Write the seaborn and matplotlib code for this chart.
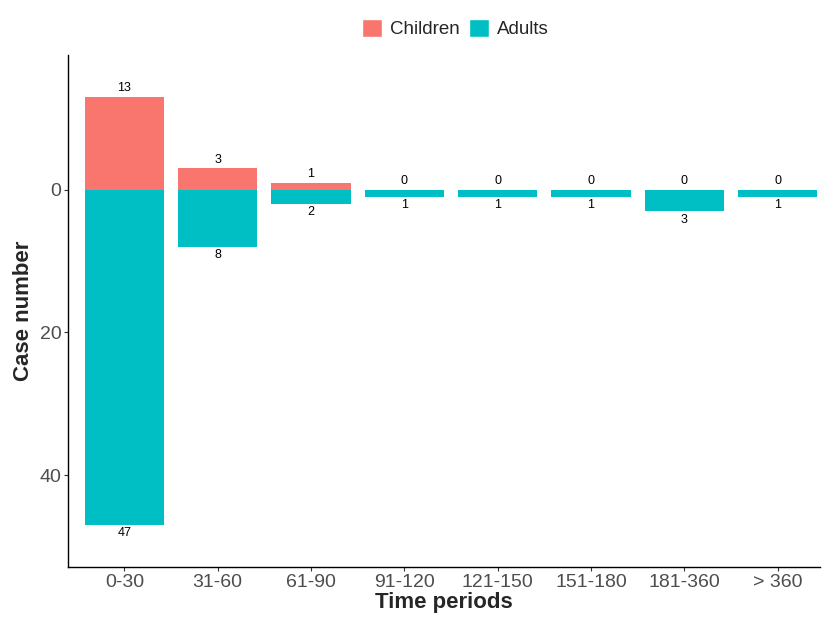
import numpy as np
import pandas as pd
import matplotlib
matplotlib.use("Agg")
import matplotlib.pyplot as plt
from matplotlib.patches import Patch
import seaborn as sns

sns.set_theme(style="ticks")
plt.rcParams['font.family'] = ['Liberation Sans', 'DejaVu Sans']

periods = ["0-30", "31-60", "61-90", "91-120", "121-150", "151-180", "181-360", "> 360"]
children = [13, 3, 1, 0, 0, 0, 0, 0]
adults = [47, 8, 2, 1, 1, 1, 3, 1]

pink = "#F8766D"
teal = "#00BFC4"

# children go up (negative), adults go down (positive), axis reversed
df = pd.DataFrame({
    "period": periods * 2,
    "value": [-c for c in children] + adults,
    "group": ["Children"] * len(periods) + ["Adults"] * len(periods),
})

fig = plt.figure(figsize=(8.23, 6.17), dpi=100)
ax = fig.add_axes([0.083, 0.081, 0.913, 0.830])

sns.barplot(data=df, x="period", y="value", hue="group", order=periods,
            hue_order=["Children", "Adults"], palette=[pink, teal],
            dodge=False, width=0.85, errorbar=None, saturation=1,
            linewidth=0, ax=ax, legend=False)

for i, (c, a) in enumerate(zip(children, adults)):
    ax.text(i, -c - 0.35, str(c), ha="center", va="bottom", fontsize=9, color="black")
    ax.text(i, a + 0.35, str(a), ha="center", va="top", fontsize=9, color="black")

ax.set_ylim(52.9, -18.9)
ax.set_xlim(-0.6, 7.45)
ax.set_yticks([0, 20, 40])
ax.set_yticklabels(["0", "20", "40"])
ax.tick_params(axis="both", labelsize=14, labelcolor="#4D4D4D", length=3, width=0.8,
               color="#333333", pad=2)
ax.set_xlabel("Time periods", fontsize=16, fontweight="bold", labelpad=1)
ax.set_ylabel("Case number", fontsize=16, fontweight="bold", labelpad=4)
sns.despine(ax=ax)
for s in ["left", "bottom"]:
    ax.spines[s].set_color("black")
    ax.spines[s].set_linewidth(1.0)

handles = [Patch(facecolor=pink, label="Children"), Patch(facecolor=teal, label="Adults")]
fig.legend(handles=handles, loc="upper center", bbox_to_anchor=(0.553, 0.997), ncol=2,
           frameon=False, fontsize=13.5, handlelength=1.1, handleheight=1.1,
           handletextpad=0.4, columnspacing=0.5)

fig.savefig("out.png", dpi=100, facecolor="white")
